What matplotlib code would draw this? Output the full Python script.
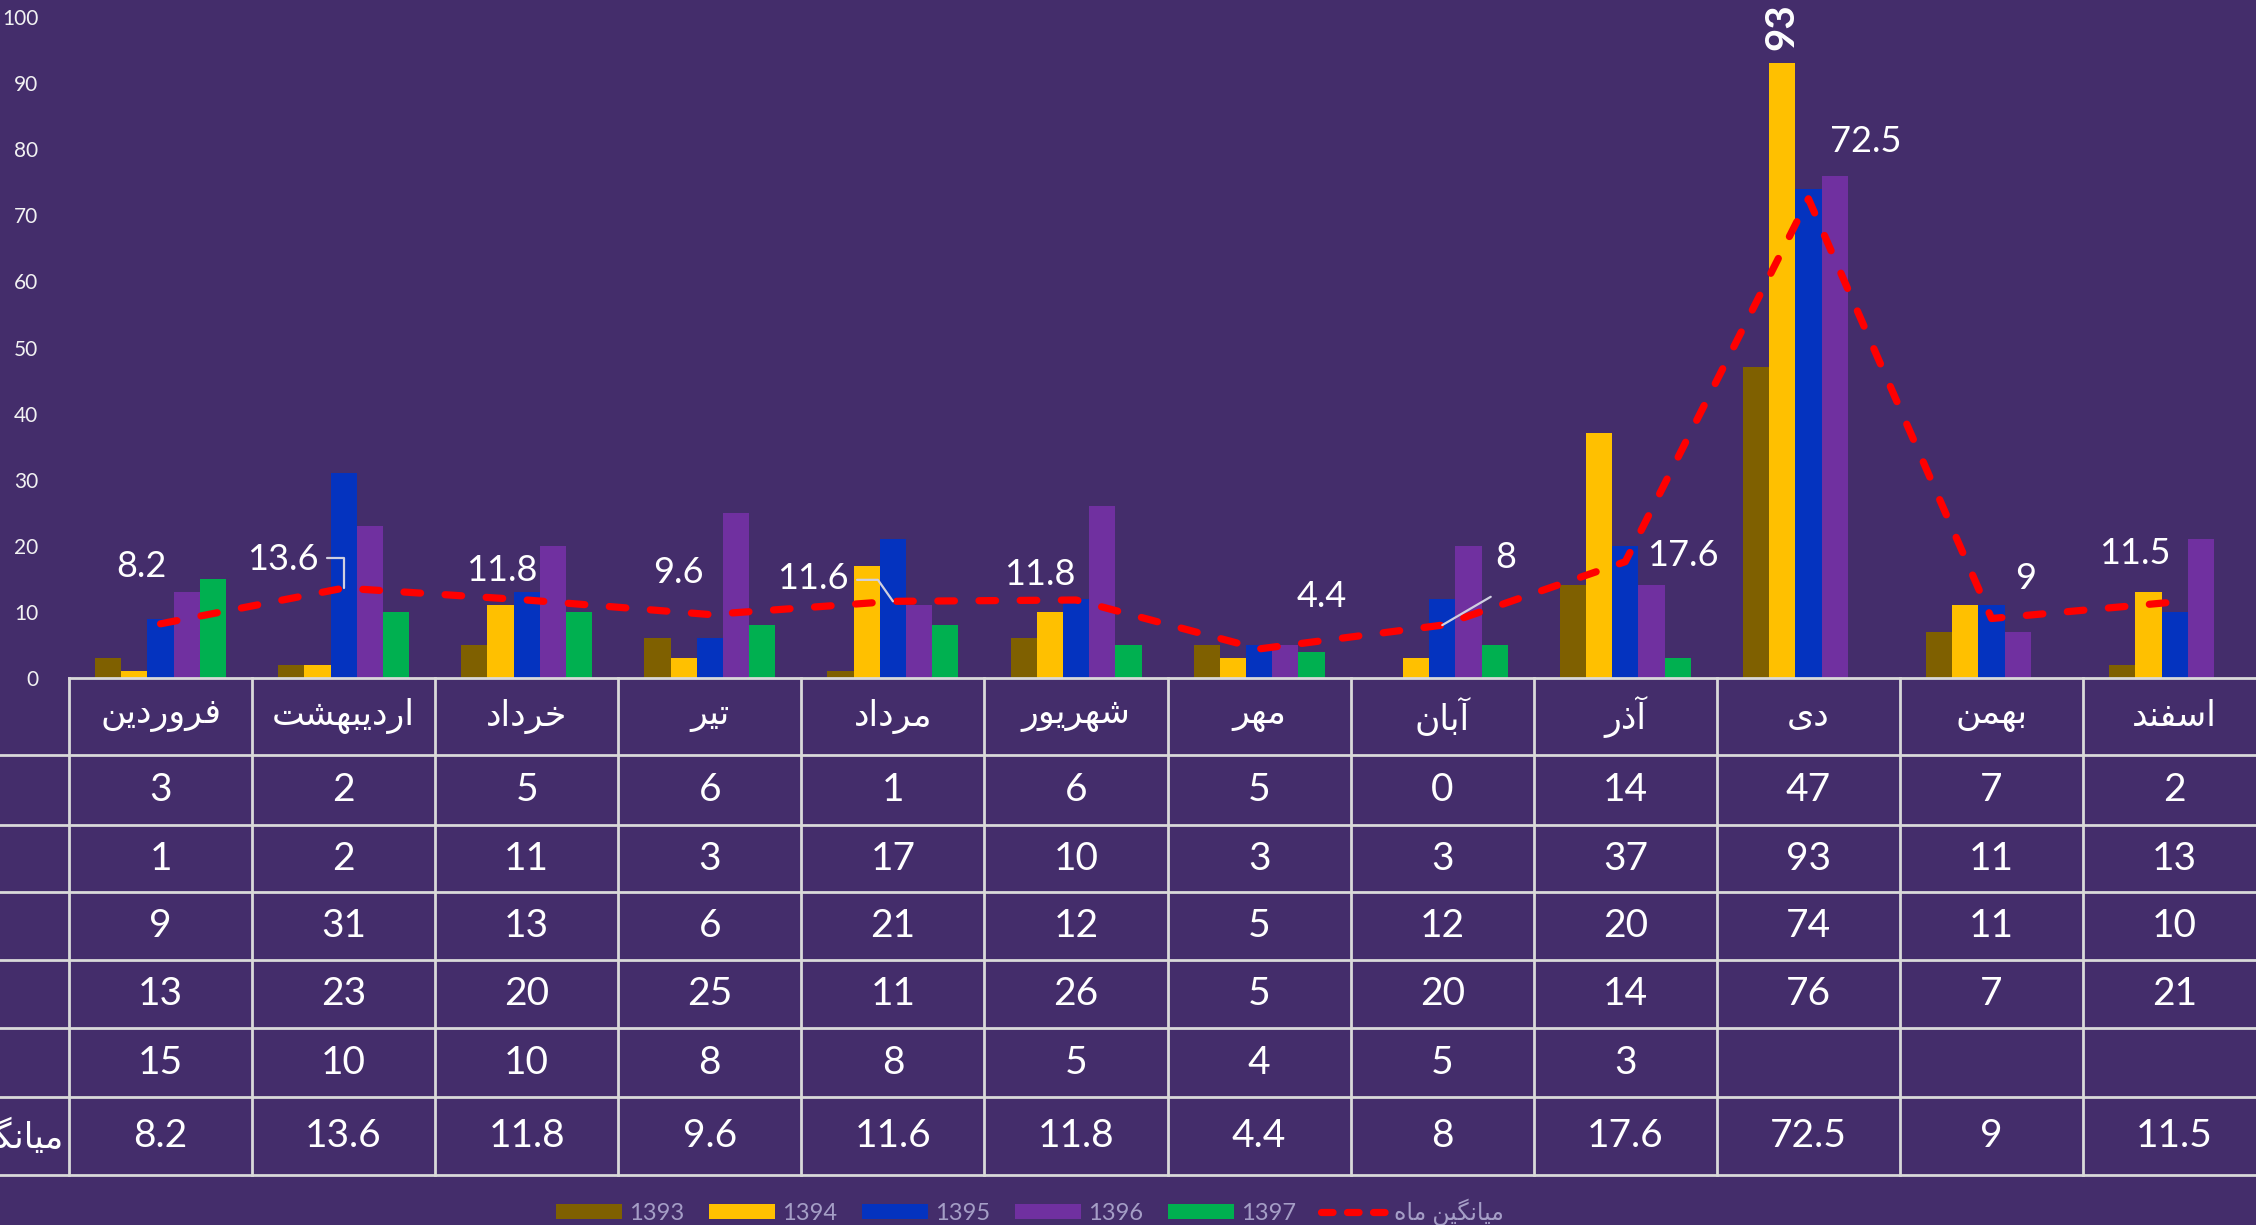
import numpy as np
import matplotlib
matplotlib.use("Agg")
import matplotlib.pyplot as plt
from matplotlib.patches import Patch
from matplotlib.lines import Line2D

months = ['فروردین', 'اردیبهشت', 'خرداد', 'تیر', 'مرداد', 'شهریور',
          'مهر', 'آبان', 'آذر', 'دی', 'بهمن', 'اسفند']
years = ['1393', '1394', '1395', '1396', '1397']
y1393 = [3, 2, 5, 6, 1, 6, 5, 0, 14, 47, 7, 2]
y1394 = [1, 2, 11, 3, 17, 10, 3, 3, 37, 93, 11, 13]
y1395 = [9, 31, 13, 6, 21, 12, 5, 12, 20, 74, 11, 10]
y1396 = [13, 23, 20, 25, 11, 26, 5, 20, 14, 76, 7, 21]
y1397 = [15, 10, 10, 8, 8, 5, 4, 5, 3, None, None, None]
avg = [8.2, 13.6, 11.8, 9.6, 11.6, 11.8, 4.4, 8, 17.6, 72.5, 9, 11.5]
avg_name = 'میانگین ماه'

series = [y1393, y1394, y1395, y1396, y1397]
colors = ['#7F6000', '#FFC000', '#0433BF', '#7030A0', '#00B050']
bg = '#442D6B'
txt = '#FFFFFF'
grid_c = '#D9D9D9'

# ---- tiny persian shaper (matplotlib has no complex text layout) ----
# iso, final, initial, medial
FORMS = {
    'ا': ('\uFE8D', '\uFE8E', None, None),
    'آ': ('\uFE81', '\uFE82', None, None),
    'ب': ('\uFE8F', '\uFE90', '\uFE91', '\uFE92'),
    'ت': ('\uFE95', '\uFE96', '\uFE97', '\uFE98'),
    'خ': ('\uFEA5', '\uFEA6', '\uFEA7', '\uFEA8'),
    'د': ('\uFEA9', '\uFEAA', None, None),
    'ذ': ('\uFEAB', '\uFEAC', None, None),
    'ر': ('\uFEAD', '\uFEAE', None, None),
    'س': ('\uFEB1', '\uFEB2', '\uFEB3', '\uFEB4'),
    'ش': ('\uFEB5', '\uFEB6', '\uFEB7', '\uFEB8'),
    'ف': ('\uFED1', '\uFED2', '\uFED3', '\uFED4'),
    'گ': ('\uFB92', '\uFB93', '\uFB94', '\uFB95'),
    'م': ('\uFEE1', '\uFEE2', '\uFEE3', '\uFEE4'),
    'ن': ('\uFEE5', '\uFEE6', '\uFEE7', '\uFEE8'),
    'ه': ('\uFEE9', '\uFEEA', '\uFEEB', '\uFEEC'),
    'و': ('\uFEED', '\uFEEE', None, None),
    'ی': ('\uFEEF', '\uFEF0', '\uFEF3', '\uFEF4'),
}


def fa(word):
    out = []
    for i, c in enumerate(word):
        if c not in FORMS:
            out.append(c)
            continue
        iso, fin, ini, med = FORMS[c]
        prev = word[i-1] if i > 0 else None
        nxt = word[i+1] if i + 1 < len(word) else None
        jp = prev in FORMS and FORMS[prev][2] is not None
        jn = nxt in FORMS and ini is not None
        if jp and jn:
            out.append(med)
        elif jp:
            out.append(fin)
        elif jn:
            out.append(ini)
        else:
            out.append(iso)
    return ''.join(reversed(out))


FAM = ['Lato', 'DejaVu Sans']
plt.rcParams['font.family'] = FAM

W, H = 2256, 1225
left_px, top_px, base_px, table_bot = 69, 17, 678, 1175
cat_px = 183.1  # one month column, the plot runs a bit past the right edge
plot_w = cat_px * len(months)

fig = plt.figure(figsize=(W/100, H/100), dpi=100, facecolor=bg)
ax = fig.add_axes([left_px/W, 1-base_px/H, plot_w/W, (base_px-top_px)/H])
ax.set_facecolor('none')

x = np.arange(len(months))
bw = 0.143
for k, (vals, col) in enumerate(zip(series, colors)):
    v = np.array([np.nan if a is None else a for a in vals], dtype=float)
    ax.bar(x + (k-2)*bw, v, width=bw, color=col, zorder=2)

ax.plot(x, avg, color='#FF0000', lw=5.2, dashes=(2.3, 3.4),
        dash_capstyle='round', zorder=3)

# average labels: (dx, dy) offsets from the point, in data units
lab_off = [(-0.107, 8.7), (-0.331, 4.3), (-0.135, 4.4), (-0.169, 6.3),
           (-0.437, 3.5), (-0.197, 3.9), (0.343, 8.0), (0.348, 10.2),
           (0.315, 1.0), (0.314, 8.6), (0.188, 6.1), (-0.217, 7.4)]
leaders = {1: ('angle,angleA=0,angleB=90', (1, 0.55)),
           4: ('angle,angleA=0,angleB=125', (1, 0.45)),
           7: ('arc3,rad=0', (0.0, -0.6))}
for i, (a, (dx, dy)) in enumerate(zip(avg, lab_off)):
    kw = {}
    if i in leaders:
        cs, rp = leaders[i]
        kw['arrowprops'] = dict(arrowstyle='-', color='#D0D0E0', lw=1.6,
                                connectionstyle=cs, relpos=rp,
                                shrinkA=4, shrinkB=0)
    ax.annotate('{:g}'.format(a), xy=(i, a), xytext=(i+dx, a+dy),
                textcoords='data', ha='center', va='center',
                fontsize=26, color=txt, zorder=5, **kw)

# bold rotated label on the tallest bar
imax = int(np.argmax(y1394))
ax.text(imax + (1-2)*bw, y1394[imax] + 2.0, str(y1394[imax]), rotation=90,
        ha='center', va='bottom', fontsize=29, fontweight='bold', color=txt,
        zorder=5, clip_on=False)

ax.set_xlim(-0.5, len(months) - 0.5)
ax.set_ylim(0, 100)
ax.set_yticks(np.arange(0, 101, 10))
ax.set_xticks([])
ax.tick_params(axis='y', length=0, pad=22, labelsize=15, labelcolor='#F2F2F2')
for s in ['top', 'right', 'left']:
    ax.spines[s].set_visible(False)
ax.spines['bottom'].set_color(grid_c)
ax.spines['bottom'].set_linewidth(2)

# ---- data table under the chart ----
tax = fig.add_axes([left_px/W, 1-table_bot/H, plot_w/W, (table_bot-base_px)/H],
                   sharex=ax)
tax.set_facecolor('none')
tax.axis('off')
rows = [0, 77, 147, 214, 282, 350, 419, 497]
tax.set_ylim(rows[-1], 0)

for r in rows[1:]:
    tax.plot([-1.5, len(months) - 0.5], [r, r], color=grid_c, lw=2, clip_on=False)
for b in np.arange(-0.5, len(months), 1.0):
    tax.plot([b, b], [0, rows[-1]], color=grid_c, lw=2, clip_on=False)

for i, m in enumerate(months):
    tax.text(i, (rows[0]+rows[1])/2, fa(m), ha='center', va='center',
             fontsize=25, color=txt)
    for k, vals in enumerate(series):
        if vals[i] is not None:
            tax.text(i, (rows[k+1]+rows[k+2])/2, str(vals[i]), ha='center',
                     va='center', fontsize=28, color=txt)
    tax.text(i, (rows[6]+rows[7])/2, '{:g}'.format(avg[i]), ha='center',
             va='center', fontsize=28, color=txt)
tax.text(-0.53, (rows[6]+rows[7])/2, fa(avg_name), ha='right', va='center',
         fontsize=25, color=txt, clip_on=False)

# ---- legend ----
handles = [Patch(facecolor=c, edgecolor='none') for c in colors]
handles.append(Line2D([0], [0], color='#FF0000', lw=5.2, dashes=(1.6, 2.0),
                      dash_capstyle='round'))
labels = years + [fa(avg_name)]
fig.legend(handles, labels, loc='center', bbox_to_anchor=(1030/W, 1-1212/H),
           ncol=6, frameon=False, fontsize=17, labelcolor='#A59EC6',
           handlelength=2.8, handleheight=0.6, handletextpad=0.3,
           columnspacing=1.05)

fig.savefig('out.png', dpi=100, facecolor=bg)
